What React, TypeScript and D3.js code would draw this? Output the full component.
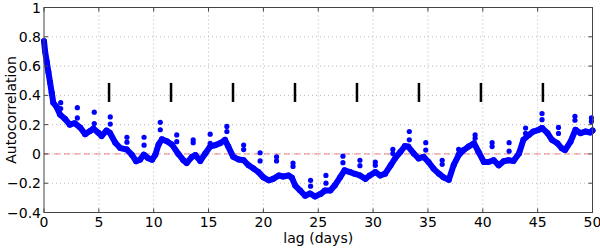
import React from 'react';
import * as d3 from 'd3';

// main autocorrelation curve
const lag = [
  0, 0.1, 0.25, 0.4, 0.55, 0.7, 0.85, 1.15, 1.45, 1.9, 2.35, 2.8, 3.3, 3.75, 4.2, 4.5, 4.95, 5.25, 5.7, 6.0,
  6.5, 6.95, 7.55, 8.0, 8.4, 8.75, 9.1, 9.5, 9.85, 10.15, 10.45, 10.75, 11.2, 11.65, 12.25, 12.7, 13.0, 13.5, 13.8, 14.25,
  14.7, 15.15, 15.6, 16.05, 16.5, 16.8, 17.25, 17.75, 18.2, 18.65, 19.1, 19.55, 20.0, 20.5, 20.9, 21.4, 21.8, 22.3, 22.6, 22.9,
  23.35, 23.8, 24.25, 24.7, 25.2, 25.6, 26.1, 26.5, 27.0, 27.4, 27.9, 28.3, 28.8, 29.3, 29.7, 30.2, 30.65, 31.1, 31.6, 32.0,
  32.5, 32.9, 33.2, 33.7, 34.15, 34.6, 35.05, 35.5, 36.0, 36.4, 36.9, 37.35, 37.8, 38.25, 38.7, 39.2, 39.6, 40.1, 40.5, 41.0,
  41.45, 41.9, 42.35, 42.8, 43.3, 43.7, 44.2, 44.6, 45.1, 45.4, 45.9, 46.3, 46.8, 47.2, 47.5, 48.0, 48.45, 48.9, 49.35, 49.8, 50.0,
];
const acf = [
  0.77, 0.7, 0.63, 0.56, 0.49, 0.42, 0.35, 0.32, 0.27, 0.24, 0.2, 0.21, 0.18, 0.135, 0.157, 0.173, 0.145, 0.122, 0.16, 0.145,
  0.076, 0.04, 0.03, -0.005, -0.05, -0.04, -0.005, -0.03, -0.04, -0.005, 0.065, 0.1, 0.087, 0.065, 0.0, -0.043, -0.062, -0.02, -0.008, -0.048,
  0.003, 0.05, 0.06, 0.073, 0.096, 0.05, -0.02, -0.038, -0.043, -0.078, -0.1, -0.124, -0.16, -0.18, -0.17, -0.147, -0.154, -0.147, -0.163, -0.216,
  -0.25, -0.286, -0.27, -0.29, -0.274, -0.25, -0.25, -0.216, -0.159, -0.112, -0.124, -0.135, -0.147, -0.17, -0.147, -0.124, -0.147, -0.135, -0.078, -0.031,
  0.015, 0.054, 0.05, 0.003, -0.031, -0.02, -0.055, -0.1, -0.135, -0.159, -0.177, -0.075, -0.008, 0.026, 0.05, 0.073, 0.015, -0.055, -0.055, -0.043,
  -0.078, -0.05, -0.043, -0.048, 0.003, 0.096, 0.13, 0.153, 0.165, 0.177, 0.142, 0.096, 0.073, 0.038, 0.026, 0.084, 0.165, 0.142, 0.153, 0.146, 0.16,
];

// isolated points sitting above the curve
const spikeLag = [
  1.52, 3.04, 4.58, 6.04, 7.56, 9.12, 10.6, 12.1, 13.6, 15.15, 16.67, 18.2, 19.7, 21.2, 22.7, 24.3, 25.7,
  27.25, 28.8, 30.2, 31.8, 33.3, 34.8, 36.3, 37.8, 39.3, 40.85, 42.4, 43.9, 45.4, 46.9, 48.4, 49.9,
];
const spikeHi = [
  0.35, 0.316, 0.285, 0.253, 0.114, 0.114, 0.216, 0.13, 0.096, 0.135, 0.188, 0.061, 0.008, -0.02, -0.062, -0.18, -0.147,
  -0.015, -0.043, -0.055, 0.031, 0.153, 0.077, -0.043, 0.031, 0.13, 0.077, 0.077, 0.177, 0.276, 0.181, 0.257, 0.246,
];
const spikeLo = [
  0.31, 0.246, 0.207, 0.204, 0.08, 0.06, 0.165, 0.084, 0.077, 0.073, 0.153, 0.03, -0.048, -0.048, -0.085, -0.22, -0.2,
  -0.06, -0.08, -0.078, 0.003, 0.096, 0.026, -0.071, 0.0, 0.107, 0.05, 0.019, 0.14, 0.234, 0.14, 0.23, 0.222,
];

// short black vertical markers
const markerLag = [5.93, 11.58, 17.23, 22.88, 28.53, 34.18, 39.83, 45.48];
const markerRange = [0.355, 0.485];

const xTicks = [0, 5, 10, 15, 20, 25, 30, 35, 40, 45, 50];
const yTicks = [-0.4, -0.2, 0, 0.2, 0.4, 0.6, 0.8, 1];

const W = 600;
const H = 248;
const margin = { top: 7.5, right: 7.5, bottom: 35.5, left: 44 };
const font = 'DejaVu Sans, sans-serif';

export default function App() {
  const x = d3.scaleLinear().domain([0, 50]).range([margin.left, W - margin.right]);
  const y = d3.scaleLinear().domain([-0.4, 1]).range([H - margin.bottom, margin.top]);
  const [x0, x1] = x.range();
  const [y0, y1] = y.range();

  const pts: [number, number][] = lag.map((l, i) => [l, acf[i]]);
  const line = d3.line<[number, number]>().x(d => x(d[0])).y(d => y(d[1]));

  const blue = '#0000ff';
  const tickLen = 4;

  return (
    <svg width={W} height={H} style={{ position: 'absolute', left: 0, top: 0, background: '#fff' }}>
      {/* grid */}
      <g stroke="#b8b8b8" strokeWidth={1} strokeDasharray="1,3">
        {xTicks.slice(1, -1).map(t => (
          <line key={'gx' + t} x1={x(t)} x2={x(t)} y1={y1} y2={y0} />
        ))}
        {yTicks.slice(1, -1).map(t => (
          <line key={'gy' + t} x1={x0} x2={x1} y1={y(t)} y2={y(t)} />
        ))}
      </g>

      {/* zero line */}
      <line x1={x0} x2={x1} y1={y(0)} y2={y(0)} stroke="#f08080" strokeWidth={1} strokeDasharray="6,4" />

      {/* markers */}
      <g stroke="#000" strokeWidth={2.5}>
        {markerLag.map(m => (
          <line key={'m' + m} x1={x(m)} x2={x(m)} y1={y(markerRange[0])} y2={y(markerRange[1])} />
        ))}
      </g>

      {/* data */}
      <path d={line(pts) || ''} fill="none" stroke={blue} strokeWidth={6} strokeLinejoin="round" strokeLinecap="round" />
      <g fill={blue}>
        {pts.map((p, i) => (
          <circle key={'p' + i} cx={x(p[0])} cy={y(p[1])} r={3} />
        ))}
        {spikeLag.map((l, i) => (
          <g key={'s' + i}>
            <circle cx={x(l)} cy={y(spikeHi[i])} r={2.6} />
            <circle cx={x(l)} cy={y(spikeLo[i])} r={2.6} />
          </g>
        ))}
      </g>

      {/* frame and ticks */}
      <rect x={x0} y={y1} width={x1 - x0} height={y0 - y1} fill="none" stroke="#444" strokeWidth={1} />
      <g stroke="#444" strokeWidth={1}>
        {xTicks.map(t => (
          <g key={'tx' + t}>
            <line x1={x(t)} x2={x(t)} y1={y0} y2={y0 - tickLen} />
            <line x1={x(t)} x2={x(t)} y1={y1} y2={y1 + tickLen} />
          </g>
        ))}
        {yTicks.map(t => (
          <g key={'ty' + t}>
            <line x1={x0} x2={x0 + tickLen} y1={y(t)} y2={y(t)} />
            <line x1={x1} x2={x1 - tickLen} y1={y(t)} y2={y(t)} />
          </g>
        ))}
      </g>

      {/* tick labels */}
      <g fontFamily={font} fontSize={14} fill="#000">
        {xTicks.map(t => (
          <text key={'lx' + t} x={x(t)} y={y0 + 14.5} textAnchor="middle">
            {t}
          </text>
        ))}
        {yTicks.map(t => (
          <text key={'ly' + t} x={x0 - 3} y={y(t) + 5} textAnchor="end">
            {d3.format('')(+t.toFixed(1))}
          </text>
        ))}
      </g>

      {/* axis titles */}
      <text x={(x0 + x1) / 2} y={242.5} textAnchor="middle" fontFamily={font} fontSize={14}>
        lag (days)
      </text>
      <text
        transform={`translate(16,${(y0 + y1) / 2}) rotate(-90)`}
        textAnchor="middle"
        fontFamily={font}
        fontSize={14}
      >
        Autocorrelation
      </text>
    </svg>
  );
}
